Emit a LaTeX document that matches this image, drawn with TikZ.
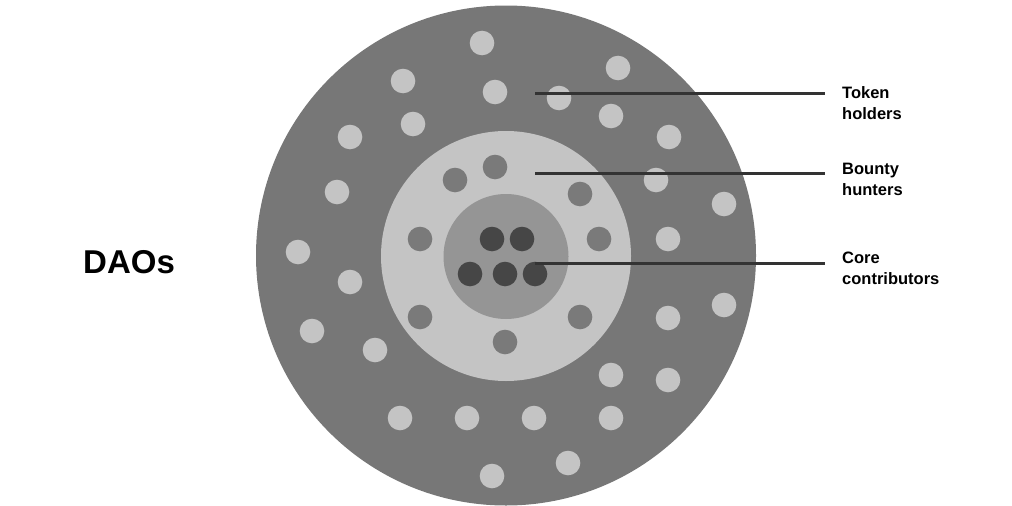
\documentclass[tikz,border=0pt]{standalone}
\usepackage{fontspec}
\setmainfont{Liberation Sans}
\definecolor{ringdark}{HTML}{777777}
\definecolor{ringlight}{HTML}{C4C4C4}
\definecolor{ringmid}{HTML}{959595}
\definecolor{dotcore}{HTML}{464646}
\definecolor{dotmid}{HTML}{7A7A7A}
\definecolor{leader}{HTML}{333333}
\begin{document}
\begin{tikzpicture}[x=1pt, y=-1pt,
    lightdot/.style={fill=ringlight},
    middot/.style={fill=dotmid},
    coredot/.style={fill=dotcore},
    lbl/.style={anchor=north west, inner sep=0pt, align=left, font=\fontsize{16.5}{21}\selectfont\bfseries, text=black},
    leadline/.style={draw=leader, line width=3pt, shorten >=17pt}]
            \useasboundingbox (0,0) rectangle (1012,506);
            % Draw the rings
            \fill[ringdark] (506,255.5) circle (250);
            \fill[ringlight] (506,256) circle (125);
            \fill[ringmid] (506,256.5) circle (62.5);

            % Token holders dots
            \foreach \p in {(482,43),(403,81),(495,92),(618,68),(559,98),(413,124),
                (611,116),(350,137),(669,137),(337,192),(656,180),(724,204),
                (668,239),(298,252),(350,282),(312,331),(375,350),(668,318),
                (724,305),(611,375),(668,380),(400,418),(467,418),(534,418),
                (611,418),(568,463),(492,476)}
                \fill[lightdot] \p circle (12.3);
            % Bounty hunters dots
            \foreach \p in {(495,167),(455,180),(580,194),(420,239),(599,239),
                (420,317),(580,317),(505,342)}
                \fill[middot] \p circle (12.3);
            % Core contributors dots
            \foreach \p in {(492,239),(522,239),(470,274),(505,274),(535,274)}
                \fill[coredot] \p circle (12.3);

            % Add labels
            \node[anchor=base west, inner sep=0pt, font=\fontsize{33}{40}\selectfont\bfseries] (daos) at (83,273) {DAOs};
            \node[lbl] (token) at (842,86) {Token\\holders};
            \node[lbl] (bounty) at (842,163) {Bounty\\hunters};
            \node[lbl] (core) at (842,252) {Core\\contributors};

            % Draw the leader lines
            \coordinate (tokenpt) at (535,93);
            \coordinate (bountypt) at (535,173);
            \coordinate (corept) at (535,263);
            \draw[leadline] (tokenpt) -- (tokenpt -| token.west);
            \draw[leadline] (bountypt) -- (bountypt -| bounty.west);
            \draw[leadline] (corept) -- (corept -| core.west);
\end{tikzpicture}
\end{document}
